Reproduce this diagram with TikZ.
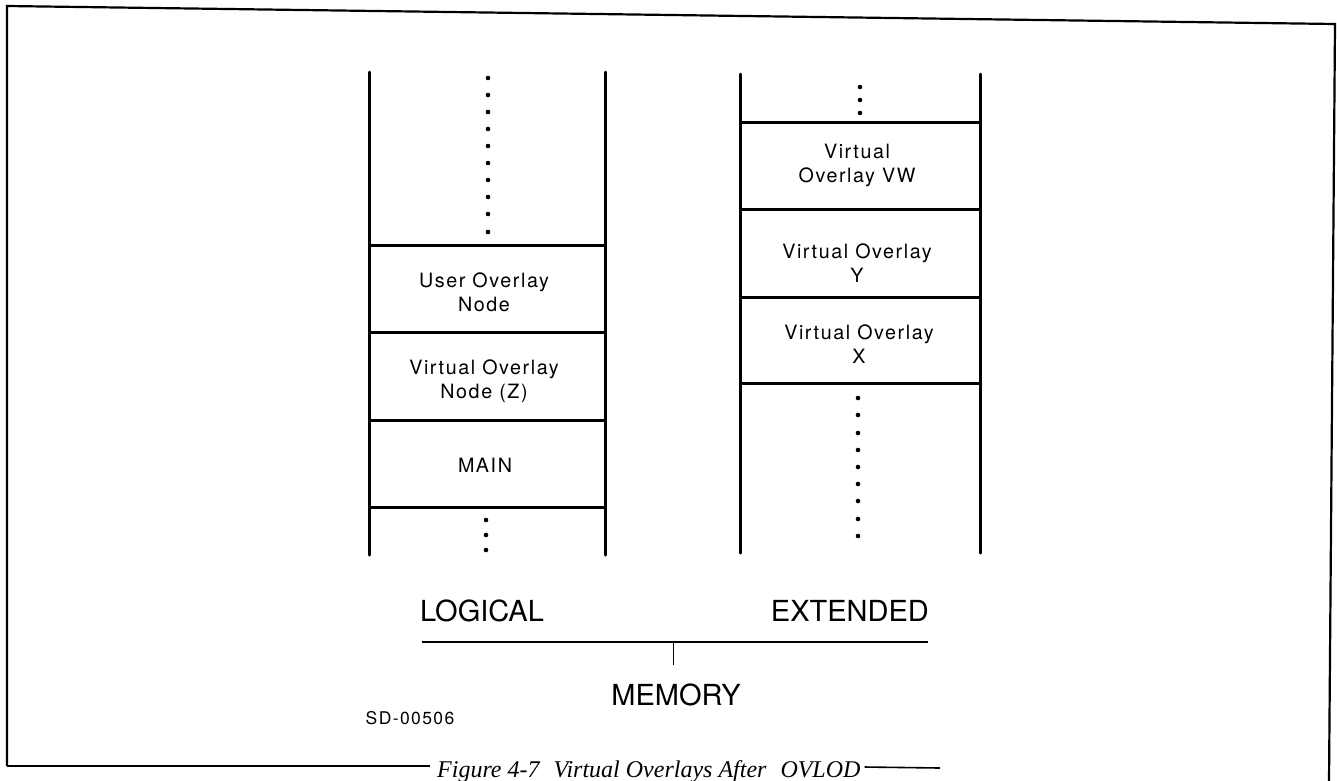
\documentclass[tikz,border=0pt]{standalone}
\usepackage{fontspec}
\setmainfont{Liberation Serif}
\newfontfamily\boxfont[LetterSpace=8]{TeX Gyre Heros}
\newfontfamily\headfont{TeX Gyre Heros}
\newfontfamily\capfont{Liberation Serif}

\begin{document}
\begin{tikzpicture}[x=1pt,y=-1pt,
  wall/.style={line width=3pt, line cap=round},
  divider/.style={line width=3pt},
  frame/.style={line width=2.2pt, line join=miter},
  boxtext/.style={align=center, inner sep=0pt,
    font=\boxfont\fontsize{19.7}{24}\selectfont},
  axislabel/.style={inner sep=0pt, font=\headfont\fontsize{29}{34}\selectfont},
  idlabel/.style={inner sep=0pt, font=\boxfont\fontsize{17.5}{20}\selectfont},
  captext/.style={inner sep=0pt, font=\capfont\itshape\fontsize{24}{28}\selectfont}
]
\useasboundingbox (0,0) rectangle (1337,780);

% outer frame
\coordinate (fbl) at (7,766);
\coordinate (ftl) at (7,6);
\coordinate (ftr) at (1335,24);
\coordinate (fbr) at (1329,781);
\draw[frame] (fbl) -- (ftl) -- (ftr) -- (fbr);

% ---------- logical memory column ----------
\draw[wall] (369,72) -- (369,555);
\draw[wall] (605,72) -- (605,555);
\foreach \yy in {245,332,420,507}
  \draw[divider] (369,\yy) -- (605,\yy);
\foreach \yy in {78,95,112,129,146,163,180,197,214,232}
  \fill (488,\yy) circle (2.3pt);
\foreach \yy in {520,535,550}
  \fill (486,\yy) circle (2.3pt);

\node[boxtext] (user) at (484,292) {User Overlay\\Node};
\node[boxtext] (vnodez) at (484,381) {Virtual Overlay\\Node (Z)};
\node[boxtext] (main) at (485,465) {MAIN};

% ---------- extended memory column ----------
\draw[wall] (740,74) -- (740,553);
\draw[wall] (980,74) -- (980,553);
\foreach \yy in {122,209,297,383}
  \draw[divider] (740,\yy) -- (980,\yy);
\foreach \yy in {87,100,113}
  \fill (860,\yy) circle (2.3pt);
\foreach \yy in {398,415,433,450,467,484,501,519,536}
  \fill (858,\yy) circle (2.3pt);

\node[boxtext] (vw) at (857,165) {Virtual\\Overlay VW};
\node[boxtext] (vy) at (857,263) {Virtual Overlay\\Y};
\node[boxtext] (vx) at (859,344) {Virtual Overlay\\X};

% ---------- memory bracket ----------
\node[axislabel, anchor=base west] (logical) at (420,621) {LOGICAL};
\node[axislabel, anchor=base east] (extended) at (929,621) {EXTENDED};
\node[axislabel, anchor=base] (memory) at (676,705) {MEMORY};
\coordinate (bl) at (422,642);
\coordinate (br) at (928,642);
\coordinate (tk) at (673,642);
\coordinate (tkend) at (673,665);
\draw[line width=1.8pt] (bl) -- (br);
\draw[line width=1pt] (tk) -- (tkend);

% drawing number
\node[idlabel] (sdnum) at (410,718) {SD-00506};

% caption in the bottom rule
\node[captext, anchor=base west] (caption) at (437,777)
  {Figure 4-7\hspace{8pt} Virtual Overlays After\hspace{8pt} OVLOD};
\coordinate (rl) at (430,766);
\coordinate (rr) at (940,768);
\draw[frame] (fbl) -- (rl);
\draw[line width=1.6pt] (caption.base east |- rr) ++(4,-1) -- (rr);
\end{tikzpicture}
\end{document}
